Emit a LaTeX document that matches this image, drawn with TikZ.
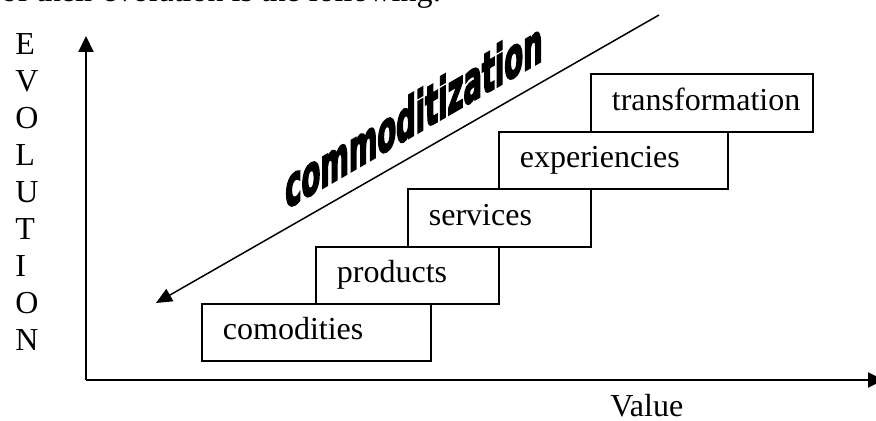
\documentclass[tikz,border=0pt]{standalone}
\usepackage{fontspec}
\setmainfont{Liberation Serif}
\newfontfamily\wordart{DejaVu Sans Condensed}[BoldFont={DejaVu Sans Condensed Bold}, BoldFeatures={FakeBold=4}]
\usetikzlibrary{arrows.meta}

\tikzset{
  axis/.style={line width=1pt, -{Triangle[length=8pt, width=7.5pt]}},
  stair/.style={draw, line width=0.9pt, anchor=north west, minimum height=28.75pt,
    inner xsep=10.5pt, inner ysep=0pt, text height=0.7em, text depth=0pt,
    text width=#1, align=left},
  letter/.style={anchor=base west, inner sep=0pt}
}

\begin{document}
\begin{tikzpicture}[x=0.5pt, y=-0.5pt, font=\fontsize{16}{19}\selectfont]
    \useasboundingbox (0,0) rectangle (876,421);
    \clip (0,0) rectangle (876,421);
    % cut-off line of the text above
    \node[letter] (intro) at (1,2) {of their evolution is the following:};
    % axes
    \coordinate (origin) at (86,380);
    \coordinate (ytop) at (86,36);
    \coordinate (xend) at (884,380);
    \draw[axis] (origin) -- (ytop);
    \draw[axis] (origin) -- (xend);
    \foreach \ch [count=\i from 0] in {E,V,O,L,U,T,I,O,N}
        \node[letter] (ev\i) at (15,{55+36.9*\i}) {\ch};
    \node[letter] (value) at (610,416) {Value};
    % the stairs
    \node[stair=93.5pt] (comodities) at (201,303) {comodities};
    \node[stair=70.5pt] (products) at (315,246) {products};
    \node[stair=70.5pt] (services) at (407,188.5) {services};
    \node[stair=93.5pt] (experiencies) at (498,131) {experiencies};
    \node[stair=90pt] (transformation) at (590,73.5) {transformation};
    % commoditization
    \coordinate (cstart) at (659,15);
    \coordinate (cend) at (156,303);
    \draw[line width=0.75pt, -{Triangle[length=8pt, width=7pt]}] (cstart) -- (cend);
    \begin{scope}[shift={(414,114)}, yslant=0.58, yscale=1.85]
        \node[transform shape, inner sep=0pt, font=\wordart\bfseries\fontsize{15.2}{18}\selectfont] (comm) {commoditization};
    \end{scope}
\end{tikzpicture}
\end{document}
